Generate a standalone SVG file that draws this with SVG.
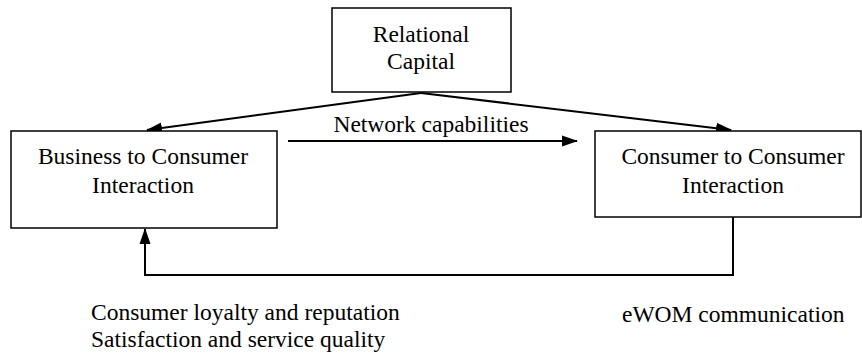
<svg xmlns="http://www.w3.org/2000/svg" width="862" height="356" viewBox="0 0 862 356">
<style>
.box{fill:#fff;stroke:#000;stroke-width:1.5}
.t{font-family:"Liberation Serif",serif;font-size:23.5px;fill:#000}
.c{text-anchor:middle}
.ln{fill:none;stroke:#000;stroke-width:2}
</style>
<defs>
<marker id="ah" markerWidth="16" markerHeight="12" refX="15" refY="6" orient="auto" markerUnits="userSpaceOnUse">
<path d="M0,0.5 L16,6 L0,11.5 Z" fill="#000"/>
</marker>
</defs>
<rect width="862" height="356" fill="#fff"/>
<g id="connectors">
<line class="ln" x1="421" y1="93" x2="147" y2="130" marker-end="url(#ah)"/>
<line class="ln" x1="421" y1="93" x2="731" y2="130" marker-end="url(#ah)"/>
<line class="ln" x1="288" y1="141" x2="577" y2="141" marker-end="url(#ah)"/>
<polyline class="ln" points="733,217 733,275 145,275 145,229" marker-end="url(#ah)"/>
<text class="t c" x="431" y="132">Network capabilities</text>
</g>
<g id="relational-capital">
<rect class="box" x="332" y="8" width="179" height="84"/>
<text class="t c" x="421" y="42">Relational</text>
<text class="t c" x="421" y="69">Capital</text>
</g>
<g id="b2c">
<rect class="box" x="11" y="131" width="266" height="97"/>
<text class="t c" x="143" y="164">Business to Consumer</text>
<text class="t c" x="143" y="193">Interaction</text>
</g>
<g id="c2c">
<rect class="box" x="595" y="131" width="266" height="86"/>
<text class="t c" x="733" y="164">Consumer to Consumer</text>
<text class="t c" x="733" y="193">Interaction</text>
</g>
<g id="labels">
<text class="t" x="91" y="320">Consumer loyalty and reputation</text>
<text class="t" x="91" y="347">Satisfaction and service quality</text>
<text class="t" x="622" y="322">eWOM communication</text>
</g>
</svg>
